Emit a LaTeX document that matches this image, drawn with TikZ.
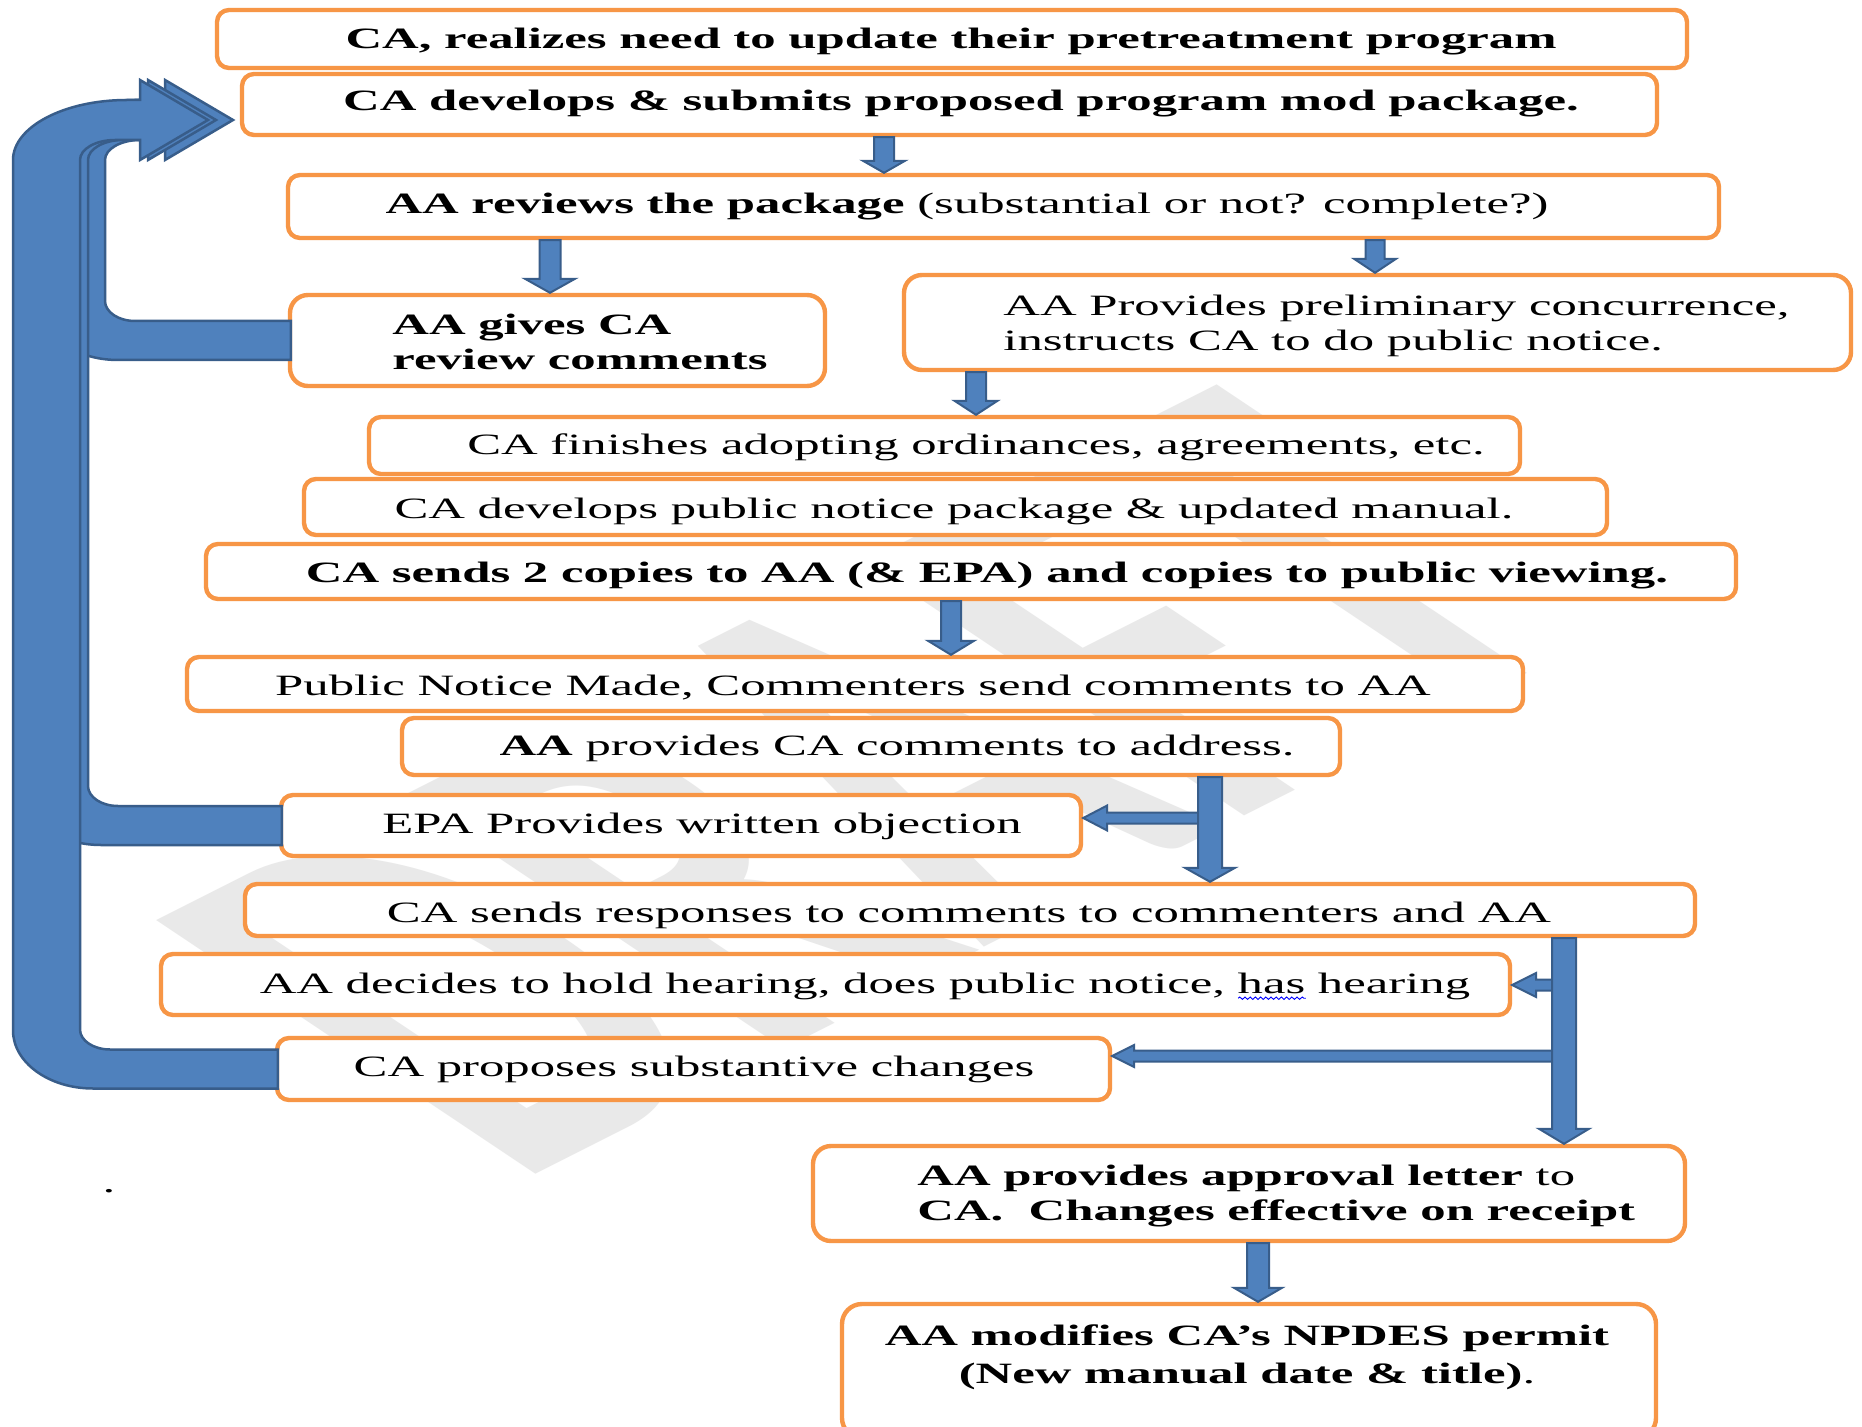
\documentclass[tikz,border=0pt]{standalone}
\usepackage{fontspec}
\setmainfont{Liberation Serif}[FakeStretch=1.72]
\newfontfamily\wmfont{Carlito}
\usetikzlibrary{calc,decorations.pathmorphing}
\definecolor{boxorange}{HTML}{F79646}
\definecolor{arrfill}{HTML}{4F81BD}
\definecolor{arrline}{HTML}{385D8A}
\definecolor{wmgray}{HTML}{E9E9E9}
\newsavebox\wavebox
\newcommand\bluewave[1]{\sbox\wavebox{#1}\rlap{\tikz[baseline=0pt,x=1pt,y=1pt]\draw[blue,line width=0.45pt,decorate,decoration={snake,amplitude=0.6pt,segment length=2.6pt}] (0,-2.6) -- (\the\wd\wavebox,-2.6);}#1}
\tikzset{
  box/.style={draw=boxorange, line width=2.2pt, fill=white, inner sep=0pt},
  txt/.style={inner sep=0pt, font=\fontsize{14.75}{17.5}\selectfont},
  blockarr/.style={fill=arrfill, draw=arrline, line width=1pt},
  bigarr/.style={fill=arrfill, draw=arrline, line width=1.25pt},
  wm/.style={inner sep=0pt, text=wmgray, font=\wmfont\bfseries\fontsize{152}{152}\selectfont}
}
% box: name, x1, y1, x2, y2, corner radius
\newcommand\bx[6]{%
  \node[box, rounded corners=#6, minimum width={(#4-#2-4)*0.5pt},
        minimum height={(#5-#3-4)*0.5pt}] (#1) at ({(#2+#4)/2},{(#3+#5)/2}) {};}
% vertical block arrow: x, from node, to node, half shaft, half head, head length
\newcommand\varr[6]{%
  \path[blockarr] let \p1=(#1,0 |- #2.south), \p2=(#1,0 |- #3.north) in
    ({\x1-#4},\y1) -- ({\x1-#4},{\y2+#6}) -- ({\x1-#5},{\y2+#6}) -- (\x1,\y2)
    -- ({\x1+#5},{\y2+#6}) -- ({\x1+#4},{\y2+#6}) -- ({\x1+#4},\y1) -- cycle;}
% horizontal block arrow to the left: junction, to node, half shaft, half head, head length
\newcommand\harr[5]{%
  \path[blockarr] let \p1=(#1), \p2=(#1 -| #2.east) in
    (\x1,{\y1+#3}) -- ({\x2+#5},{\y1+#3}) -- ({\x2+#5},{\y1+#4}) -- (\x2,\y1)
    -- ({\x2+#5},{\y1-#4}) -- ({\x2+#5},{\y1-#3}) -- (\x1,{\y1-#3}) -- cycle;}
% big bent arrow: shift dx (px), source node
\newcommand\bent[2]{%
  \path[bigarr] let \p1=(#2.west) in
    ({(208+#1)*0.5pt},-60pt) -- ({(140+#1)*0.5pt},-80pt) -- ({(140+#1)*0.5pt},-70pt)
    -- ({(115+#1)*0.5pt},-70pt)
    .. controls ({(95.7+#1)*0.5pt},-70pt) and ({(80+#1)*0.5pt},-74.5pt) .. ({(80+#1)*0.5pt},-80pt)
    -- ({(80+#1)*0.5pt},{\y1+19.75pt})
    .. controls ({(80+#1)*0.5pt},{\y1+14.25pt}) and ({(93.4+#1)*0.5pt},{\y1+9.75pt}) .. ({(110+#1)*0.5pt},{\y1+9.75pt})
    -- ({\x1+1.5pt},{\y1+9.75pt}) -- ({\x1+1.5pt},{\y1-9.75pt})
    -- ({(93+#1)*0.5pt},{\y1-9.75pt})
    .. controls ({(49+#1)*0.5pt},{\y1-9.75pt}) and ({(13+#1)*0.5pt},{\y1+3.25pt}) .. ({(13+#1)*0.5pt},{\y1+19.25pt})
    -- ({(13+#1)*0.5pt},-80pt)
    .. controls ({(13+#1)*0.5pt},-63.5pt) and ({(64+#1)*0.5pt},-50pt) .. ({(127+#1)*0.5pt},-50pt)
    -- ({(140+#1)*0.5pt},-50pt) -- ({(140+#1)*0.5pt},-40pt) -- cycle;}
\begin{document}
\begin{tikzpicture}[x=0.5pt, y=-0.5pt]
\useasboundingbox (0,0) rectangle (1862,1427);
\clip (0,0) rectangle (1862,1427);
\fill[white] (0,0) rectangle (1862,1427);
% watermark
\begin{scope}[xscale=1.72]
  \node[wm, rotate=41, yscale=1.705, transform shape, anchor=base west] (wmark) at (298,1186) {DRAFT};
\end{scope}
% boxes
\bx{b1}{215}{8}{1689}{70}{6pt}
\bx{b2}{240}{72}{1659}{137}{6pt}
\bx{b3}{286}{173}{1721}{240}{6pt}
\bx{b4}{288}{293}{827}{388}{9pt}
\bx{b5}{902}{273}{1853}{372}{9pt}
\bx{b6}{367}{415}{1522}{476}{6pt}
\bx{b7}{302}{477}{1609}{537}{6pt}
\bx{b8}{204}{542}{1738}{601}{6pt}
\bx{b9}{185}{655}{1525}{713}{6pt}
\bx{b10}{400}{716}{1342}{777}{6pt}
\bx{b11}{279}{793}{1083}{858}{6pt}
\bx{b12}{243}{882}{1697}{938}{6pt}
\bx{b13}{159}{952}{1512}{1017}{6pt}
\bx{b14}{275}{1036}{1112}{1102}{6pt}
\bx{b15}{811}{1144}{1687}{1243}{9pt}
\bx{b16}{840}{1302}{1658}{1440}{10pt}
% texts
\node[txt, anchor=base] (t1) at (951,49) {\textbf{CA, realizes need to update their pretreatment program}};
\node[txt, anchor=base] (t2) at (961,111) {\textbf{CA develops \& submits proposed program mod package.}};
\node[txt, anchor=base] (t3) at (967,214) {\textbf{AA reviews the package} (substantial or not? complete?)};
\node[txt, anchor=west, align=left] (t4) at (392,342) {\textbf{AA gives CA}\\\textbf{review comments}};
\node[txt, anchor=west, align=left] (t5) at (1003,326) {AA Provides preliminary concurrence,\\instructs CA to do public notice.};
\node[txt, anchor=base] (t6) at (976,455) {CA finishes adopting ordinances, agreements, etc.};
\node[txt, anchor=base] (t7) at (954,518) {CA develops public notice package \& updated manual.};
\node[txt, anchor=base] (t8) at (987,582) {\textbf{CA sends 2 copies to AA (\& EPA) and copies to public viewing.}};
\node[txt, anchor=base] (t9) at (853,695) {Public Notice Made, Commenters send comments to AA};
\node[txt, anchor=base] (t10) at (897,755) {\textbf{AA} provides CA comments to address.};
\node[txt, anchor=base] (t11) at (702,833) {EPA Provides written objection};
\node[txt, anchor=base] (t12) at (969,922) {CA sends responses to comments to commenters and AA};
\node[txt, anchor=base] (t13) at (865,993) {AA decides to hold hearing, does public notice, \bluewave{has} hearing};
\node[txt, anchor=base] (t14) at (694,1076) {CA proposes substantive changes};
\node[txt, anchor=west, align=left] (t15) at (917,1196) {\textbf{AA provides approval letter} to\\\textbf{CA.\ \ Changes effective on receipt}};
\node[txt, align=center] (t16) at (1247,1357) {\textbf{AA modifies CA’s NPDES permit}\\[1.5pt]\textbf{(New manual date \& title)}.};
\node[txt, anchor=base] (dot) at (109,1192) {.};
% big bent arrows back to b2
\bent{25}{b4}
\bent{8}{b11}
\bent{0}{b14}
% small block arrows
\coordinate (j1) at (1210,818);
\coordinate (j2) at (1564,985);
\coordinate (j3) at (1564,1056);
\varr{884}{b2}{b3}{5pt}{10.5pt}{6pt}
\varr{550}{b3}{b4}{5.25pt}{12.5pt}{7pt}
\varr{1375}{b3}{b5}{4.75pt}{10.5pt}{7pt}
\varr{976}{b5}{b6}{5pt}{10.75pt}{7pt}
\varr{951}{b8}{b9}{5pt}{11.5pt}{7pt}
\harr{j1}{b11}{2.75pt}{6.25pt}{12pt}
\varr{1210}{b10}{b12}{6pt}{12.5pt}{7pt}
\harr{j2}{b13}{2.75pt}{6pt}{12pt}
\harr{j3}{b14}{2.75pt}{5.5pt}{11pt}
\varr{1564}{b12}{b15}{6pt}{12.5pt}{7.5pt}
\varr{1258}{b15}{b16}{5.5pt}{12pt}{7pt}
\end{tikzpicture}
\end{document}
